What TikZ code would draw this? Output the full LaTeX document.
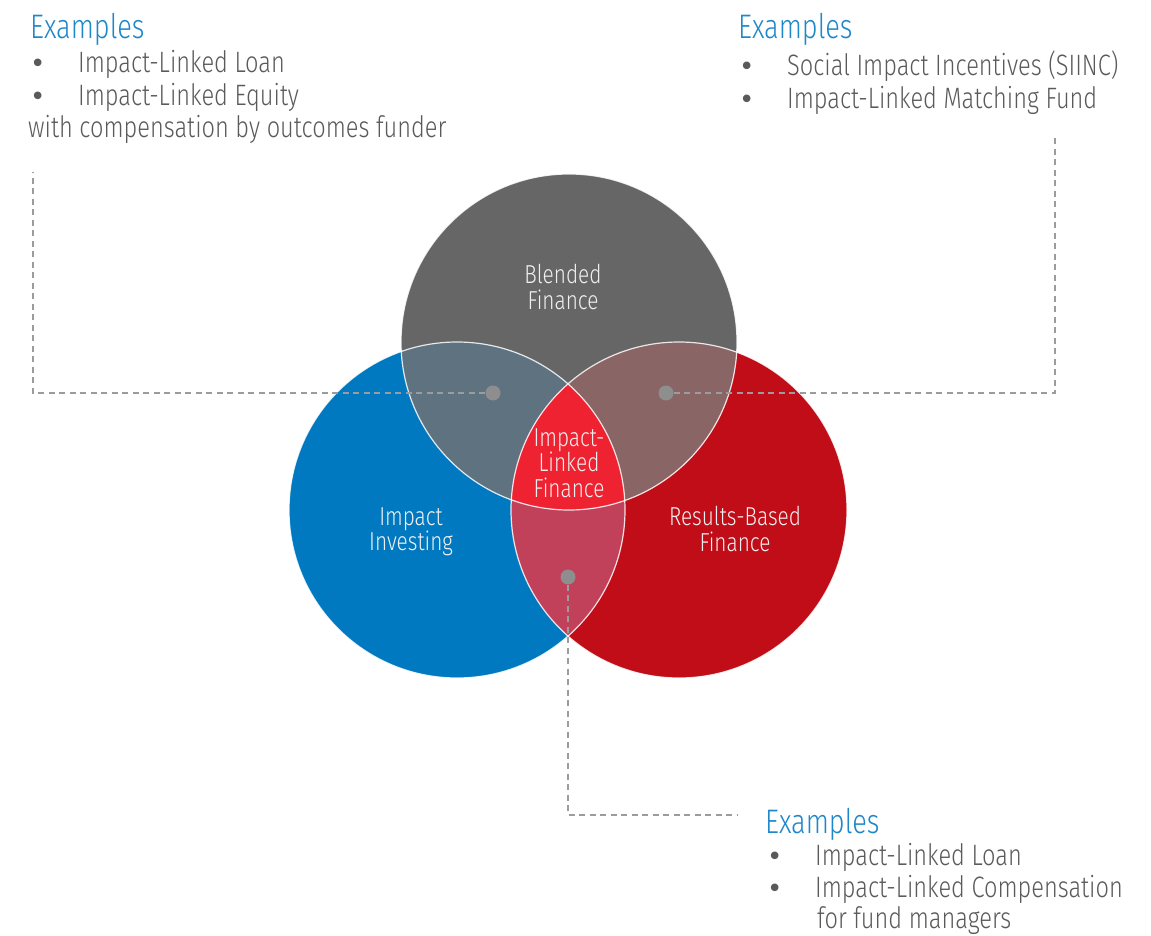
\documentclass[tikz,border=0pt]{standalone}
\usepackage{fontspec}
\setmainfont{Fira Sans}[UprightFont=* Light, FakeStretch=0.80]
\newfontfamily\bulletfont{DejaVu Sans}
\definecolor{investblue}{HTML}{0079C1}
\definecolor{blendgray}{HTML}{666666}
\definecolor{resultred}{HTML}{C00D18}
\definecolor{bluegray}{HTML}{5E7280}
\definecolor{grayred}{HTML}{8A6566}
\definecolor{bluered}{HTML}{C2415A}
\definecolor{linkedred}{HTML}{EE2231}
\definecolor{headblue}{HTML}{1D87C9}
\definecolor{bodygray}{HTML}{5A5A5A}
\definecolor{leadgray}{HTML}{9C9C9C}
\definecolor{dotgray}{HTML}{8E8E8E}
\begin{document}
\begin{tikzpicture}[
        x=1pt, y=-1pt,
        set_label/.style={align=center, text=white!94!black, inner sep=0pt, font=\fontsize{26}{25.5}\selectfont},
        heading/.style={anchor=base west, inner sep=0pt, text=headblue, font=\fontsize{34}{40}\selectfont},
        item/.style={anchor=base west, inner sep=0pt, text=bodygray, font=\fontsize{29.5}{33}\selectfont},
        bullet/.style={anchor=base west, inner sep=0pt, text=bodygray, font=\bulletfont\fontsize{26}{33}\selectfont},
        dot/.style={circle, fill=dotgray, inner sep=0pt, minimum size=15pt},
        leader/.style={draw=leadgray, line width=1.8pt, dash pattern=on 6pt off 4.5pt},
        rim/.style={draw=white, line width=1.2pt, opacity=0.85}
    ]
        \useasboundingbox (0,0) rectangle (1151,936);

        % circle centres
        \coordinate (blend_c) at (569,342);
        \coordinate (invest_c) at (457,510);
        \coordinate (result_c) at (679,510);

        % the three sets
        \fill[blendgray] (blend_c) circle[radius=168pt];
        \fill[investblue] (invest_c) circle[radius=168pt];
        \fill[resultred] (result_c) circle[radius=168pt];

        % pairwise overlaps
        \begin{scope}
            \clip (invest_c) circle[radius=168pt];
            \fill[bluegray] (blend_c) circle[radius=168pt];
            \fill[bluered] (result_c) circle[radius=168pt];
        \end{scope}
        \begin{scope}
            \clip (result_c) circle[radius=168pt];
            \fill[grayred] (blend_c) circle[radius=168pt];
        \end{scope}

        % all three
        \begin{scope}
            \clip (invest_c) circle[radius=168pt];
            \clip (result_c) circle[radius=168pt];
            \fill[linkedred] (blend_c) circle[radius=168pt];
        \end{scope}

        \draw[rim] (blend_c) circle[radius=168pt];
        \draw[rim] (invest_c) circle[radius=168pt];
        \draw[rim] (result_c) circle[radius=168pt];

        % Labels in the sets
        \node[set_label] (blend_lbl) at (563,287) {Blended\\Finance};
        \node[set_label] (invest_lbl) at (411,532) {Impact\\Investing};
        \node[set_label] (result_lbl) at (735,529) {Results-Based\\Finance};
        \node[set_label] (linked_lbl) at (569,463) {Impact-\\Linked\\Finance};

        % Dots and dashed leaders
        \node[dot] (left_dot) at (493,393) {};
        \node[dot] (right_dot) at (666,393) {};
        \node[dot] (bottom_dot) at (568,577) {};
        \coordinate (left_turn) at (33,393);
        \coordinate (left_end) at (33,172);
        \coordinate (right_turn) at (1055,393);
        \coordinate (right_end) at (1055,138);
        \coordinate (bottom_turn) at (568,815);
        \coordinate (bottom_end) at (737,815);
        \draw[leader] (left_dot) -- (left_turn) -- (left_end);
        \draw[leader] (right_dot) -- (right_turn) -- (right_end);
        \draw[leader] (bottom_dot) -- (bottom_turn) -- (bottom_end);

        % Examples: top left
        \node[heading] (left_head) at (30,39) {Examples};
        \node[bullet] (left_b1) at (30,73) {•};
        \node[item] (left_t1) at (78,73) {Impact-Linked Loan};
        \node[bullet] (left_b2) at (30,106) {•};
        \node[item] (left_t2) at (78,106) {Impact-Linked Equity};
        \node[item] (left_t3) at (28,138) {with compensation by outcomes funder};

        % Examples: top right
        \node[heading] (right_head) at (738,39) {Examples};
        \node[bullet] (right_b1) at (739,76) {•};
        \node[item] (right_t1) at (787,76) {Social Impact Incentives (SIINC)};
        \node[bullet] (right_b2) at (739,109) {•};
        \node[item] (right_t2) at (787,109) {Impact-Linked Matching Fund};

        % Examples: bottom
        \node[heading] (bottom_head) at (765,833) {Examples};
        \node[bullet] (bottom_b1) at (767,865) {•};
        \node[item] (bottom_t1) at (815,865) {Impact-Linked Loan};
        \node[bullet] (bottom_b2) at (767,897) {•};
        \node[item] (bottom_t2) at (815,897) {Impact-Linked Compensation};
        \node[item] (bottom_t3) at (817,928) {for fund managers};

    \end{tikzpicture}
\end{document}
